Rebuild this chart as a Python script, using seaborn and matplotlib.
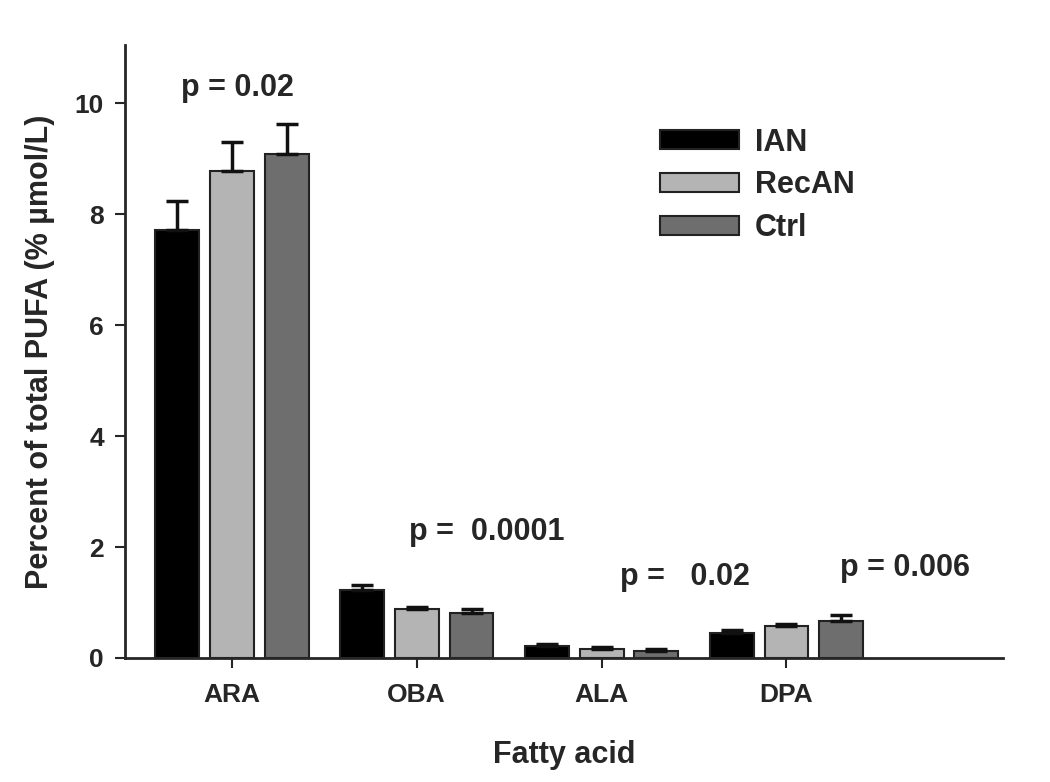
import seaborn as sns
import pandas as pd
import matplotlib.pyplot as plt

sns.set_style("ticks")
plt.rcParams['font.family'] = ['Liberation Sans', 'DejaVu Sans']

acids = ["ARA", "OBA", "ALA", "DPA"]
groups = ["IAN", "RecAN", "Ctrl"]
ian = [7.71, 1.22, 0.22, 0.45]
recan = [8.77, 0.88, 0.16, 0.58]
ctrl = [9.08, 0.81, 0.13, 0.67]
ian_err = [0.52, 0.10, 0.03, 0.05]
recan_err = [0.53, 0.04, 0.03, 0.04]
ctrl_err = [0.54, 0.07, 0.03, 0.10]
pvals = ["p = 0.02", "p =  0.0001", "p =   0.02", "p = 0.006"]

df = pd.DataFrame({
    "acid": acids * 3,
    "group": ["IAN"] * 4 + ["RecAN"] * 4 + ["Ctrl"] * 4,
    "value": ian + recan + ctrl,
})
errs = [ian_err, recan_err, ctrl_err]

fig = plt.figure(figsize=(10.5, 7.82), dpi=100)
ax = fig.add_axes([0.119, 0.1586, 0.836, 0.784])

sns.barplot(data=df, x="acid", y="value", hue="group", order=acids, hue_order=groups,
            palette=["#000000", "#b4b4b4", "#6e6e6e"], edgecolor="#222222", linewidth=1.5,
            width=0.89, gap=0.2, errorbar=None, ax=ax)

for cont, err in zip(ax.containers, errs):
    xs = [b.get_x() + b.get_width() / 2 for b in cont]
    hs = [b.get_height() for b in cont]
    ax.errorbar(xs, hs, yerr=[[0] * len(err), err], fmt="none", ecolor="#111111",
                elinewidth=2.5, capsize=8, capthick=2.5, zorder=3)

# p-value labels
p_xy = [(0.03, 10.27), (1.38, 2.27), (2.45, 1.46), (3.64, 1.62)]
for txt, (px, py) in zip(pvals, p_xy):
    ax.text(px, py, txt, ha="center", va="center", fontsize=22, fontweight="bold")

ax.set_xlim(-0.578, 4.17)
ax.set_ylim(0, 11.05)
ax.set_yticks([0, 2, 4, 6, 8, 10])
ax.set_xlabel("Fatty acid", fontsize=22, fontweight="bold", labelpad=24)
ax.set_ylabel("Percent of total PUFA (% \u00b5mol/L)", fontsize=22, fontweight="bold", labelpad=14)
ax.tick_params(axis="both", labelsize=19, width=1.5, length=7)
ax.tick_params(axis="x", pad=11)
ax.tick_params(axis="y", pad=8)
for lab in ax.get_xticklabels() + ax.get_yticklabels():
    lab.set_fontweight("bold")
for s in ["left", "bottom"]:
    ax.spines[s].set_linewidth(2)
sns.despine(ax=ax)

ax.legend(title=None, frameon=False, loc="upper left", bbox_to_anchor=(0.578, 0.91),
          handlelength=2.6, handleheight=0.6, labelspacing=0.42, handletextpad=0.5,
          prop={"weight": "bold", "size": 22})

fig.savefig("out.png", dpi=100)
